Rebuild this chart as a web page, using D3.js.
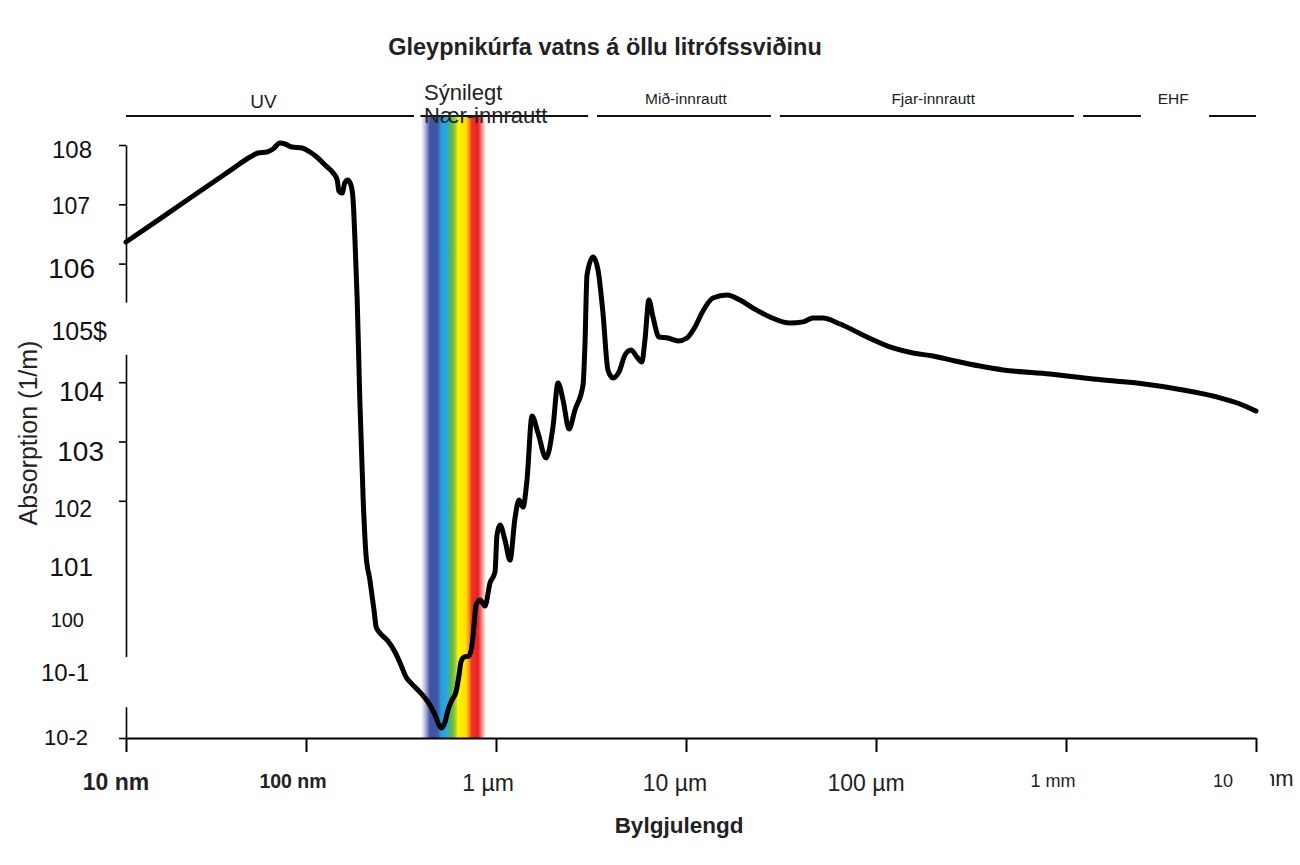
<!DOCTYPE html>
<html>
<head>
<meta charset="utf-8">
<script src="https://cdn.jsdelivr.net/npm/d3@7"></script>
<style>
	body { margin: 0; background: #fff; }
	svg { display: block; font-family: "Liberation Sans", Arial, sans-serif; }
</style>
</head>
<body>
<svg id="chart" width="1300" height="865"></svg>
<script>
// wavelength (nm) and absorption coefficient (1/m)
const wavelengthNm = [10, 15.5, 22.7, 37.8, 48.9, 54.1, 60.7, 65.6, 71.7, 76.4, 83.6, 95.0, 105, 114, 126, 139, 146, 149, 155, 160, 166, 173, 177,
	181, 186, 192, 200, 207, 217, 228, 234, 245, 270, 294, 316, 336, 357, 388, 423, 455, 483, 501, 520,
	539, 559, 587, 616, 639, 654, 679, 721, 748, 766, 785, 824, 875, 930, 988, 1012, 1050, 1115, 1185, 1259,
	1321, 1387, 1456, 1547, 1664, 1834, 1995, 2120, 2253, 2423, 2604, 2871, 2939, 3013, 3243, 3443, 3656, 3882, 4128, 4440,
	4775, 5140, 5520, 5860, 6080, 6380, 6700, 7210, 8040, 9080, 10120, 11150, 12280, 13870, 16440, 19230, 22540, 27670, 35240, 41300,
	46560, 52600, 64700, 89700, 122800, 156600, 199500, 260600, 352400, 465600, 824100, 1387000, 2365000, 4130000, 6240000, 8240000, 10000000];
const absorption = [2.31e6, 5.72e6, 1.28e7, 3.69e7, 6.28e7, 7.33e7, 7.62e7, 8.57e7, 1.08e8, 1.04e8, 9.25e7, 8.90e7, 7.62e7, 6.28e7, 4.60e7, 3.37e7, 2.57e7, 1.67e7, 1.55e7, 2.29e7, 2.57e7, 2.04e7, 1.18e7,
	2.50e6, 2.43e5, 5010, 103, 12.2, 4.61, 1.44, 0.745, 0.590, 0.432, 0.282, 0.170, 0.107, 0.0845, 0.0644, 0.0473, 0.0333, 0.0226, 0.0166, 0.0148,
	0.0186, 0.0297, 0.0438, 0.0597, 0.115, 0.191, 0.232, 0.242, 0.370, 0.805, 1.75, 2.12, 1.68, 4.11, 6.30, 26.5, 39.1, 21.8, 10.0, 51.3,
	103, 78.5, 224, 2690, 1390, 527, 1760, 9700, 5010, 1630, 3400, 8970, 4.24e4, 6.43e5, 1.29e6, 7.80e5, 1.47e5, 1.61e4, 1.18e4, 1.49e4,
	2.88e4, 3.49e4, 2.66e4, 2.19e4, 5.15e4, 2.43e5, 1.26e5, 5.78e4, 5.56e4, 4.95e4, 5.56e4, 8.53e4, 1.59e5, 2.63e5, 2.95e5, 2.43e5, 1.78e5, 1.26e5, 9.95e4, 1.04e5,
	1.21e5, 1.21e5, 9.57e4, 5.78e4, 3.78e4, 3.10e4, 2.77e4, 2.28e4, 1.87e4, 1.61e4, 1.37e4, 1.13e4, 9700, 7380, 5620, 4290, 3270];

const xTickValues = [10, 100, 1000, 1e4, 1e5, 1e6, 1e7];
const xTickLabels = ['10 nm', '100 nm', '1 µm', '10 µm', '100 µm', '1 mm', '10'];

const yTickValues = [1e8, 1e7, 1e6, 1e4, 1e3, 1e2, 1e-2];
const yLabelValues = [1e8, 1e7, 1e6, 1e5, 1e4, 1e3, 1e2, 1e1, 1e0, 1e-1, 1e-2];
const yLabelTexts = ['108', '107', '106', '105$', '104', '103', '102', '101', '100', '10-1', '10-2'];

// spectral regions (nm)
const bandNames = ['UV', 'Mið-innrautt', 'Fjar-innrautt', 'EHF'];
const bandLabelAt = [58, 1e4, 2e5, 3.67e6];
const bandLines = [[10, 370], [400, 3050], [3400, 28000], [31200, 1.1e6], [1.23e6, 2.48e6], [5.66e6, 1e7]];
const visibleNames = ['Sýnilegt', 'Nær-innrautt'];
const visibleRange = [403, 885];

const W = 1300, H = 865;
const svg = d3.select('#chart');
svg.append('rect').attr('width', W).attr('height', H).attr('fill', '#fff');

// x: log scale, first decade is a bit narrower in the picture
const x = d3.scaleLog().domain([10, 100, 1e7]).range([126, 306, 1256]);
const y = d3.scaleLog().domain([1e-2, 1e8]).range([738, 145]);
const bandY = 116;

// rainbow strip
const grad = svg.append('defs').append('linearGradient')
	.attr('id', 'rainbow')
	.attr('gradientUnits', 'userSpaceOnUse')
	.attr('x1', x(visibleRange[0])).attr('x2', x(visibleRange[1]))
	.attr('y1', 0).attr('y2', 0);
[[0, '#ffffff'], [0.06, '#bcc0e0'], [0.14, '#3f51a3'], [0.26, '#3d5aa8'], [0.31, '#2b9ed8'], [0.40, '#2aa9e0'],
	[0.46, '#55b74a'], [0.52, '#8dc63f'], [0.57, '#fff200'], [0.69, '#ffdf00'], [0.74, '#f7931e'], [0.78, '#ee3524'],
	[0.88, '#ec1c24'], [0.94, '#f5938c'], [1, '#ffffff']].forEach(s => {
	grad.append('stop').attr('offset', s[0]).attr('stop-color', s[1]);
});
svg.append('rect')
	.attr('x', x(visibleRange[0]))
	.attr('width', x(visibleRange[1]) - x(visibleRange[0]))
	.attr('y', bandY)
	.attr('height', y(1e-2) - bandY)
	.attr('fill', 'url(#rainbow)');

// axes
const xAxis = svg.append('g')
	.attr('transform', `translate(0,${y(1e-2)})`)
	.call(d3.axisBottom(x).tickValues(xTickValues).tickFormat('').tickSize(14).tickSizeOuter(0));
xAxis.selectAll('path,line').attr('stroke', '#000').attr('stroke-width', 2);

const yAxis = svg.append('g')
	.attr('transform', `translate(${x(10)},0)`)
	.call(d3.axisLeft(y).tickValues(yTickValues).tickFormat('').tickSize(7).tickSizeOuter(0));
yAxis.selectAll('path,line').attr('stroke', '#000').attr('stroke-width', 1.6);

// breaks in the y axis line
[[2.2e5, 2.9e4], [0.232, 0.033]].forEach(g => {
	svg.append('rect')
		.attr('x', x(10) - 4).attr('width', 8)
		.attr('y', y(g[0])).attr('height', y(g[1]) - y(g[0]))
		.attr('fill', '#fff');
});

// y labels: the picture uses mixed sizes
const yLabelLook = [[24, 92, 4], [23, 90, 2], [28, 95, 5], [25, 107, 8], [27, 104, 10], [28, 104, 10],
	[23, 92, 8], [26, 93, 7], [20, 84, 1], [24, 89, -6], [22, 88, -1]];
svg.append('g').selectAll('text')
	.data(yLabelValues)
	.join('text')
	.attr('x', (d, i) => yLabelLook[i][1])
	.attr('y', (d, i) => y(d) + yLabelLook[i][2])
	.attr('text-anchor', 'end')
	.attr('dominant-baseline', 'central')
	.attr('font-size', (d, i) => yLabelLook[i][0])
	.attr('fill', '#111')
	.text((d, i) => yLabelTexts[i]);

// x labels
const xLabelLook = [[23, 'bold', -10, 782], [19.5, 'bold', -13, 781], [23, 'normal', -8, 783], [23, 'normal', -11, 783],
	[23, 'normal', -10, 783], [18, 'normal', -13, 781], [18, 'normal', -33, 781]];
svg.append('g').selectAll('text')
	.data(xTickValues)
	.join('text')
	.attr('x', (d, i) => x(d) + xLabelLook[i][2])
	.attr('y', (d, i) => xLabelLook[i][3])
	.attr('text-anchor', 'middle')
	.attr('dominant-baseline', 'central')
	.attr('font-size', (d, i) => xLabelLook[i][0])
	.attr('font-weight', (d, i) => xLabelLook[i][1])
	.attr('fill', '#222')
	.text((d, i) => xTickLabels[i]);

// the "mm" of the last label is cut off at the left
svg.append('clipPath').attr('id', 'mmclip')
	.append('rect').attr('x', 1270).attr('y', 760).attr('width', 40).attr('height', 40);
svg.append('text')
	.attr('x', 1257).attr('y', 778)
	.attr('dominant-baseline', 'central')
	.attr('font-size', 22)
	.attr('fill', '#222')
	.attr('clip-path', 'url(#mmclip)')
	.text('mm');

// region lines + labels at the top
svg.append('g').selectAll('line')
	.data(bandLines)
	.join('line')
	.attr('x1', d => x(d[0])).attr('x2', d => x(d[1]))
	.attr('y1', bandY).attr('y2', bandY)
	.attr('stroke', '#111').attr('stroke-width', 2);

svg.append('g').selectAll('text')
	.data(bandNames)
	.join('text')
	.attr('x', (d, i) => x(bandLabelAt[i]))
	.attr('y', (d, i) => i === 0 ? 101 : 98)
	.attr('text-anchor', 'middle')
	.attr('dominant-baseline', 'central')
	.attr('font-size', (d, i) => i === 0 ? 19 : 15.5)
	.attr('fill', '#222')
	.text(d => d);

svg.append('g').selectAll('text')
	.data(visibleNames)
	.join('text')
	.attr('x', x(visibleRange[0]) + 3)
	.attr('y', (d, i) => 92 + i * 23)
	.attr('dominant-baseline', 'central')
	.attr('font-size', 22)
	.attr('fill', '#222')
	.text(d => d);

// absorption curve
const points = wavelengthNm.map((w, i) => [w, absorption[i]]);
const line = d3.line()
	.x(d => x(d[0]))
	.y(d => y(d[1]))
	.curve(d3.curveMonotoneX);
svg.append('path')
	.datum(points)
	.attr('d', line)
	.attr('fill', 'none')
	.attr('stroke', '#000')
	.attr('stroke-width', 5)
	.attr('stroke-linejoin', 'round')
	.attr('stroke-linecap', 'round');

// titles
svg.append('text')
	.attr('x', 605).attr('y', 47)
	.attr('text-anchor', 'middle')
	.attr('dominant-baseline', 'central')
	.attr('font-size', 23.5).attr('font-weight', 'bold')
	.attr('fill', '#222')
	.text('Gleypnikúrfa vatns á öllu litrófssviðinu');

svg.append('text')
	.attr('x', 679).attr('y', 825)
	.attr('text-anchor', 'middle')
	.attr('dominant-baseline', 'central')
	.attr('font-size', 22.5).attr('font-weight', 'bold')
	.attr('fill', '#222')
	.text('Bylgjulengd');

svg.append('text')
	.attr('transform', 'translate(28,433) rotate(-90)')
	.attr('text-anchor', 'middle')
	.attr('dominant-baseline', 'central')
	.attr('font-size', 25)
	.attr('fill', '#222')
	.text('Absorption (1/m)');
</script>
</body>
</html>
